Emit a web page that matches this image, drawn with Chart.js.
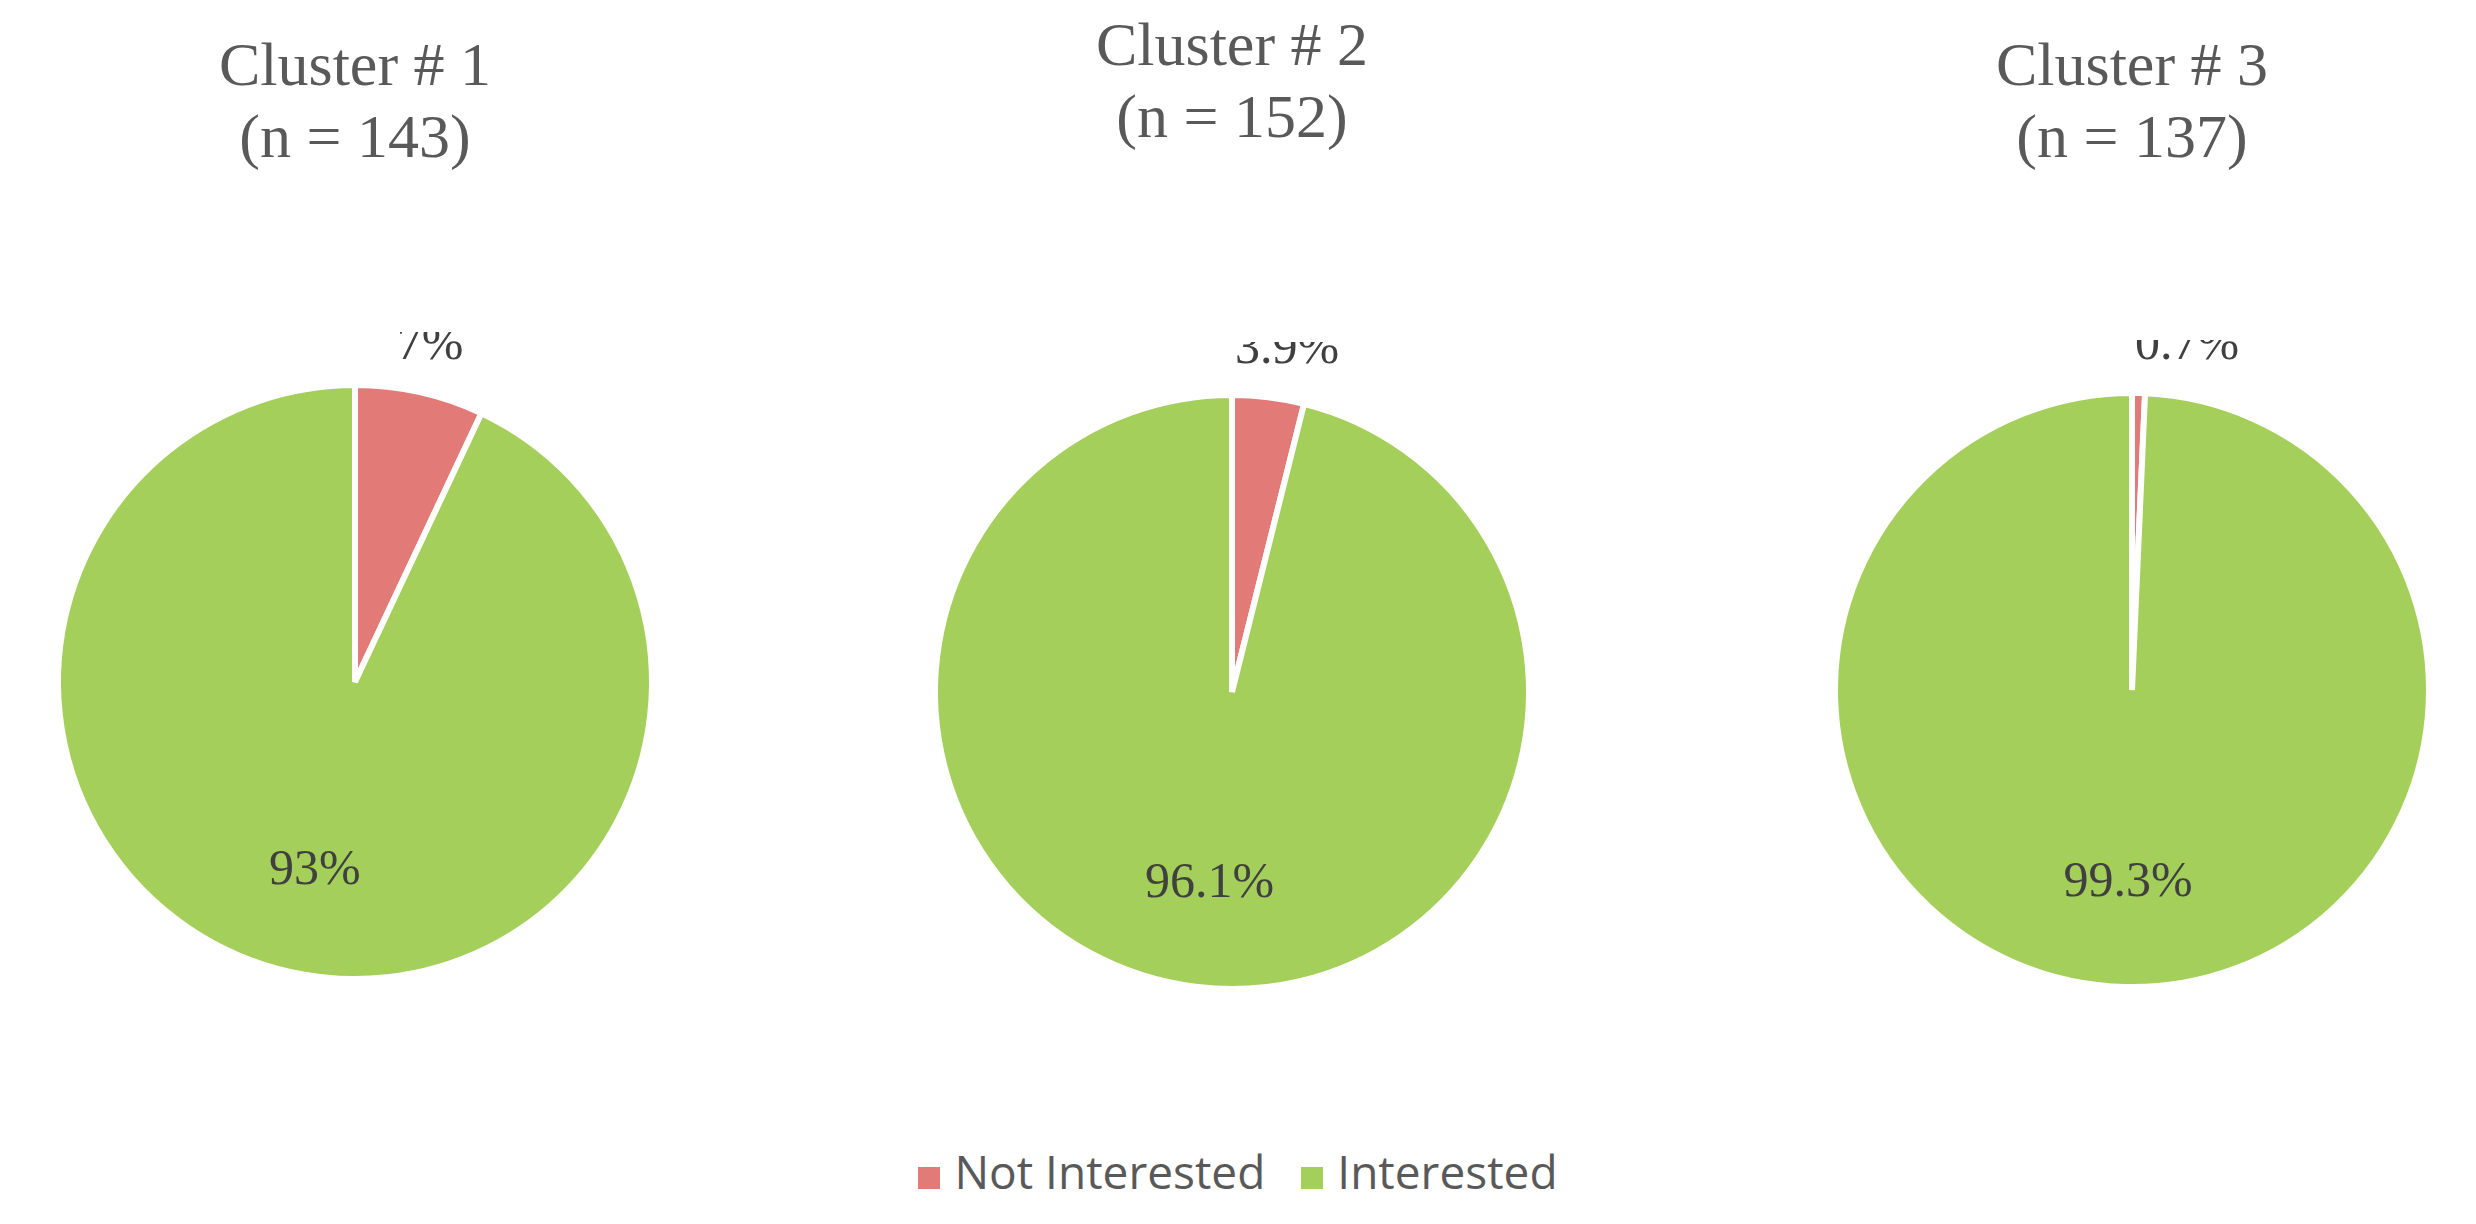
<!DOCTYPE html>
<html><head><meta charset="utf-8">
<script src="https://cdn.jsdelivr.net/npm/chart.js@4/dist/chart.umd.min.js"></script>
<style>
body{margin:0;background:#fff;width:2476px;height:1224px;position:relative;overflow:hidden}
.box{position:absolute;width:700px;height:700px}
.t{position:absolute;width:600px;text-align:center;font-family:"Liberation Serif",serif;font-size:62px;line-height:72px;color:#595959}
#leg{position:absolute;left:0;width:2476px;top:1140px;text-align:center;font-family:"Open Sans",sans-serif;font-size:46px;color:#595959}
.sw{display:inline-block;width:22px;height:22px;margin:0 14px 0 0}
</style></head><body>
<script>
const categories=["Not Interested","Interested"];
const clusterTitles=["Cluster # 1","Cluster # 2","Cluster # 3"];
const clusterN=["(n = 143)","(n = 152)","(n = 137)"];
const cluster1=[7,93];
const cluster2=[3.9,96.1];
const cluster3=[0.7,99.3];
const labels1=["7%","93%"];
const labels2=["3.9%","96.1%"];
const labels3=["0.7%","99.3%"];
const colors=["#E27A78","#A5CF5B"];
const centers=[[355,682],[1232,692],[2132,690]];
const titleTops=[28,8,28];
const sets=[[cluster1,labels1],[cluster2,labels2],[cluster3,labels3]];
const lab={id:'lab',afterDatasetsDraw(c,a,o){
 const ctx=c.ctx,meta=c.getDatasetMeta(0),txt=o.texts;
 ctx.save();ctx.font='50px "Liberation Serif"';ctx.fillStyle='#404040';ctx.textAlign='center';ctx.textBaseline='middle';
 meta.data.forEach((arc,i)=>{
  const mid=(arc.startAngle+arc.endAngle)/2,R=arc.outerRadius;
  let x,y;
  if(i===0){const rr=R*1.16;x=arc.x+Math.max(Math.cos(mid)*rr,55);y=arc.y+Math.sin(mid)*rr;}
  else{x=arc.x+Math.cos(mid)*R*0.62;y=arc.y+Math.sin(mid)*R*0.65;}
  ctx.fillText(txt[i],x,y);
 });ctx.restore();}};
sets.forEach((s,k)=>{
 const d=document.createElement('div');d.className='box';
 d.style.left=(centers[k][0]-350)+'px';d.style.top=(centers[k][1]-350)+'px';
 const cv=document.createElement('canvas');d.appendChild(cv);document.body.appendChild(d);
 const t=document.createElement('div');t.className='t';t.style.left=(centers[k][0]-300)+'px';t.style.top=titleTops[k]+'px';
 t.innerHTML=clusterTitles[k]+'<br>'+clusterN[k];document.body.appendChild(t);
 new Chart(cv,{type:'pie',data:{labels:categories,datasets:[{data:s[0],backgroundColor:colors,borderColor:'#fff',borderWidth:6}]},
  options:{responsive:true,maintainAspectRatio:false,animation:false,layout:{padding:50},
   plugins:{legend:{display:false},tooltip:{enabled:false},lab:{texts:s[1]}}},plugins:[lab]});
});
const lg=document.createElement('div');lg.id='leg';
lg.innerHTML=categories.map((c,i)=>'<span style="margin:0 18px"><span class="sw" style="background:'+colors[i]+'"></span>'+c+'</span>').join('');
document.body.appendChild(lg);
</script></body></html>
